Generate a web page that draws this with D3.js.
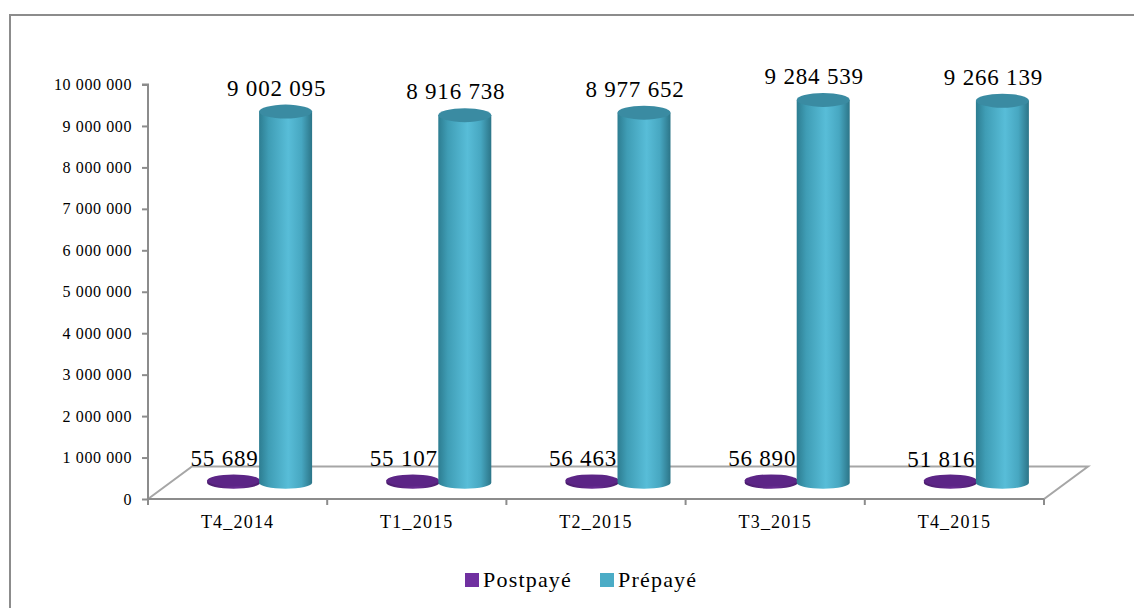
<!DOCTYPE html>
<html>
<head>
<meta charset="utf-8">
<script src="https://cdn.jsdelivr.net/npm/d3@7"></script>
<style>
  html, body { margin: 0; padding: 0; background: #fff; }
  svg { display: block; }
  text { font-family: "Liberation Serif", "Times New Roman", serif; fill: #000; }
</style>
</head>
<body>
<svg id="chart" width="1134" height="608"></svg>
<script>
const categories = ["T4_2014", "T1_2015", "T2_2015", "T3_2015", "T4_2015"];
const seriesNames = ["Postpayé", "Prépayé"];
const postpaye = [55689, 55107, 56463, 56890, 51816];
const prepaye = [9002095, 8916738, 8977652, 9284539, 9266139];
const yTicks = [0, 1000000, 2000000, 3000000, 4000000, 5000000, 6000000, 7000000, 8000000, 9000000, 10000000];

const svg = d3.select("#chart");
const SERIF = '"Liberation Serif", "Times New Roman", serif';

// frame
svg.append("rect").attr("x", 10).attr("y", 15).attr("width", 1140).attr("height", 620)
  .attr("fill", "none").attr("stroke", "#8c8c8c").attr("stroke-width", 2);

const x0 = 148, x1 = 1044;
const DX = 44, DY = -32.5; // depth offset
const y = d3.scaleLinear().domain([0, 10000000]).range([499, 84.5]);
const x = d3.scaleBand().domain(categories).range([x0, x1]);
const fmt = v => d3.format(",")(v).replace(/,/g, " ");

const defs = svg.append("defs");
const gTeal = defs.append("linearGradient").attr("id", "gTeal").attr("x1", 0).attr("x2", 1).attr("y1", 0).attr("y2", 0);
[["0%", "#2d7d91"], ["18%", "#3f9db5"], ["55%", "#58bdd8"], ["80%", "#47a7c1"], ["100%", "#2c7588"]]
  .forEach(([o, c]) => gTeal.append("stop").attr("offset", o).attr("stop-color", c));
const gPurple = defs.append("linearGradient").attr("id", "gPurple").attr("x1", 0).attr("x2", 1).attr("y1", 0).attr("y2", 0);
[["0%", "#4a1c6c"], ["55%", "#6a2d94"], ["100%", "#4a1c6c"]]
  .forEach(([o, c]) => gPurple.append("stop").attr("offset", o).attr("stop-color", c));

// floor
const floor = svg.append("g");
floor.append("path")
  .attr("d", `M${x0},${y(0)} L${x0 + DX},${y(0) + DY} L${x1 + DX},${y(0) + DY} L${x1},${y(0)} Z`)
  .attr("fill", "#fff").attr("stroke", "#a6a6a6").attr("stroke-width", 2);

// y axis
const yAxis = d3.axisLeft(y).tickValues(yTicks).tickSize(6).tickPadding(10).tickFormat(fmt);
const gy = svg.append("g").attr("transform", `translate(${x0},0)`).call(yAxis);
gy.select(".domain").attr("stroke", "#8c8c8c").attr("stroke-width", 2).attr("d", `M-6,${y(10000000)}H0V${y(0)}`);
gy.selectAll(".tick line").attr("stroke", "#8c8c8c").attr("stroke-width", 2);
gy.selectAll(".tick text").attr("font-size", 16).attr("letter-spacing", 0.6)
  .style("font-family", SERIF).attr("fill", "#000");

// x axis
const xAxis = d3.axisBottom(x).tickSize(0).tickPadding(16);
const gx = svg.append("g").attr("transform", `translate(0,${y(0)})`).call(xAxis);
gx.select(".domain").attr("stroke", "#8c8c8c").attr("stroke-width", 2).attr("d", `M${x0},0H${x1}`);
gx.selectAll(".tick text").attr("font-size", 18).attr("letter-spacing", 1.2)
  .style("font-family", SERIF).attr("fill", "#000");
const boundaries = categories.map(c => x(c)).concat([x1]);
gx.selectAll("line.sep").data(boundaries).enter().append("line").attr("class", "sep")
  .attr("x1", d => d).attr("x2", d => d).attr("y1", 0).attr("y2", 6)
  .attr("stroke", "#8c8c8c").attr("stroke-width", 2);

// cylinders
const RX = 26.5, RY = 6, RYT = 7;
function cylinder(g, cx, yb, yt, fill, topFill, ryTop) {
  g.append("path")
    .attr("d", `M${cx - RX},${yt} L${cx - RX},${yb} A${RX},${RY} 0 0 0 ${cx + RX},${yb} L${cx + RX},${yt} Z`)
    .attr("fill", fill);
  g.append("ellipse").attr("cx", cx).attr("cy", yt).attr("rx", RX).attr("ry", ryTop).attr("fill", topFill);
}

const bars = svg.append("g");
const labels = svg.append("g");
categories.forEach((c, i) => {
  const bc = x(c) + x.bandwidth() / 2;
  const g = bars.append("g");
  // postpaye
  const cxP = bc - 26 + DX / 2;
  const ybP = y(0) + DY / 2, ytP = y(postpaye[i]) + DY / 2;
  cylinder(g, cxP, ybP, ytP, "url(#gPurple)", "#5c2586", RY);
  // prepaye
  const cxQ = bc + 26 + DX / 2;
  const ybQ = y(0) + DY / 2, ytQ = y(prepaye[i]) + DY / 2 + 2;
  cylinder(g, cxQ, ybQ, ytQ, "url(#gTeal)", "#3a8ba2", RYT);

  labels.append("text").attr("x", cxP - 9).attr("y", ytP - 14).attr("text-anchor", "middle")
    .style("font-family", SERIF)
    .attr("font-size", 23).attr("letter-spacing", 0.8).text(fmt(postpaye[i]));
  labels.append("text").attr("x", cxQ - 9).attr("y", ytQ - 16).attr("text-anchor", "middle")
    .style("font-family", SERIF)
    .attr("font-size", 23).attr("letter-spacing", 0.8).text(fmt(prepaye[i]));
});

// legend
const legend = svg.append("g");
const legendColors = ["#7030a0", "#4bacc6"];
const legendX = [465, 600];
seriesNames.forEach((s, i) => {
  legend.append("rect").attr("x", legendX[i]).attr("y", 573).attr("width", 14).attr("height", 14).attr("fill", legendColors[i]);
  legend.append("text").attr("x", legendX[i] + 18).attr("y", 587).attr("font-size", 22)
    .style("font-family", SERIF)
    .attr("letter-spacing", 1.2).text(s);
});
</script>
</body>
</html>
